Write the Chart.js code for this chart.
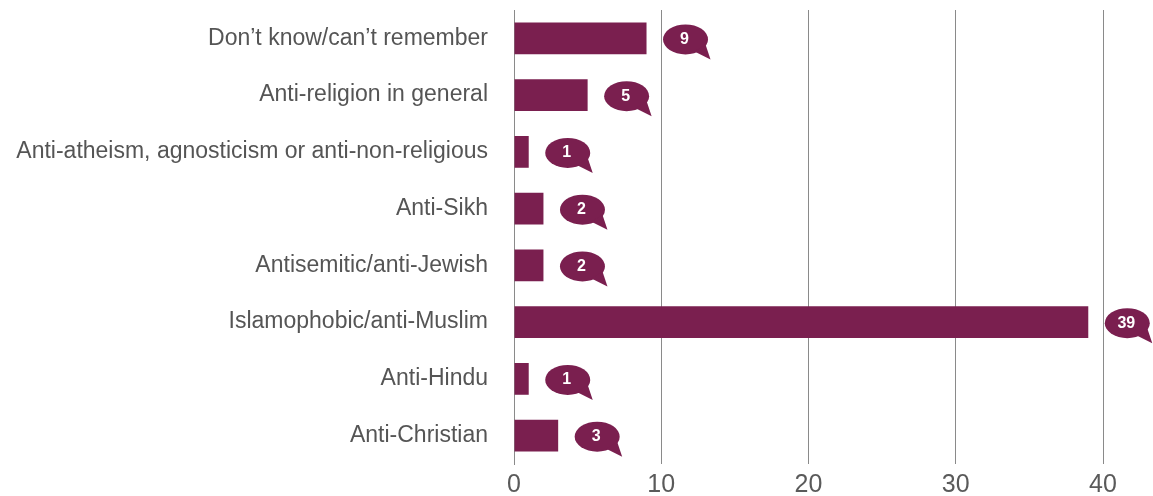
<!DOCTYPE html>
<html>
<head>
<meta charset="utf-8">
<script src="https://cdn.jsdelivr.net/npm/chart.js@4"></script>
<style>
  html, body { margin: 0; padding: 0; background: #fff; }
  #wrap { width: 1153px; height: 496px; }
</style>
</head>
<body>
<div id="wrap"><canvas id="chart"></canvas></div>
<script>
// Chart data
const categories = [
  "Don\u2019t know/can\u2019t remember",
  "Anti-religion in general",
  "Anti-atheism, agnosticism or anti-non-religious",
  "Anti-Sikh",
  "Antisemitic/anti-Jewish",
  "Islamophobic/anti-Muslim",
  "Anti-Hindu",
  "Anti-Christian"
];
const counts = [9, 5, 1, 2, 2, 39, 1, 3];
const xTicks = [0, 10, 20, 30, 40];

const barColor = "#7a1f4f";
const gridColor = "#8a8a8a";
const textColor = "#555555";

// Speech bubble labels to the right of each bar
const bubbles = {
  id: "bubbles",
  afterDatasetsDraw(chart) {
    const ctx = chart.ctx;
    const meta = chart.getDatasetMeta(0);
    meta.data.forEach((bar, i) => {
      const cx = bar.x + 39;
      const cy = bar.y + 1;
      const rx = 22.5, ry = 15;
      ctx.save();
      ctx.fillStyle = barColor;
      ctx.beginPath();
      ctx.ellipse(cx, cy, rx, ry, 0, 0, Math.PI * 2);
      ctx.fill();
      // tail
      ctx.beginPath();
      ctx.moveTo(cx + 9, cy + 12);
      ctx.lineTo(cx + 25, cy + 20);
      ctx.lineTo(cx + 20, cy + 5);
      ctx.closePath();
      ctx.fill();
      ctx.fillStyle = "#ffffff";
      ctx.font = "bold 16px 'Liberation Sans', Arial, sans-serif";
      ctx.textAlign = "center";
      ctx.textBaseline = "middle";
      ctx.fillText(String(counts[i]), cx - 1, cy);
      ctx.restore();
    });
  }
};

new Chart(document.getElementById("chart"), {
  type: "bar",
  data: {
    labels: categories,
    datasets: [{
      data: counts,
      backgroundColor: barColor,
      barPercentage: 0.56,
      categoryPercentage: 1.0
    }]
  },
  options: {
    indexAxis: "y",
    responsive: true,
    maintainAspectRatio: false,
    animation: false,
    layout: { padding: { top: 10, right: 50, bottom: -10, left: 0 } },
    plugins: {
      legend: { display: false },
      tooltip: { enabled: false }
    },
    scales: {
      x: {
        min: 0,
        max: 40,
        afterBuildTicks(axis) {
          axis.ticks = xTicks.map(v => ({ value: v }));
        },
        grid: { color: gridColor, lineWidth: 1, drawTicks: false },
        border: { display: false },
        ticks: {
          color: "#5a5a5a",
          padding: 6,
          font: { family: "'Liberation Sans', Arial, sans-serif", size: 25 }
        }
      },
      y: {
        grid: { display: false, drawTicks: false },
        border: { display: true, color: gridColor, width: 1 },
        afterFit(axis) {
          axis.width = 514;
          axis.paddingTop = 0;
          axis.paddingBottom = 0;
        },
        ticks: {
          color: textColor,
          padding: 26,
          font: { family: "'Liberation Sans', Arial, sans-serif", size: 23 }
        }
      }
    }
  },
  plugins: [bubbles]
});
</script>
</body>
</html>
